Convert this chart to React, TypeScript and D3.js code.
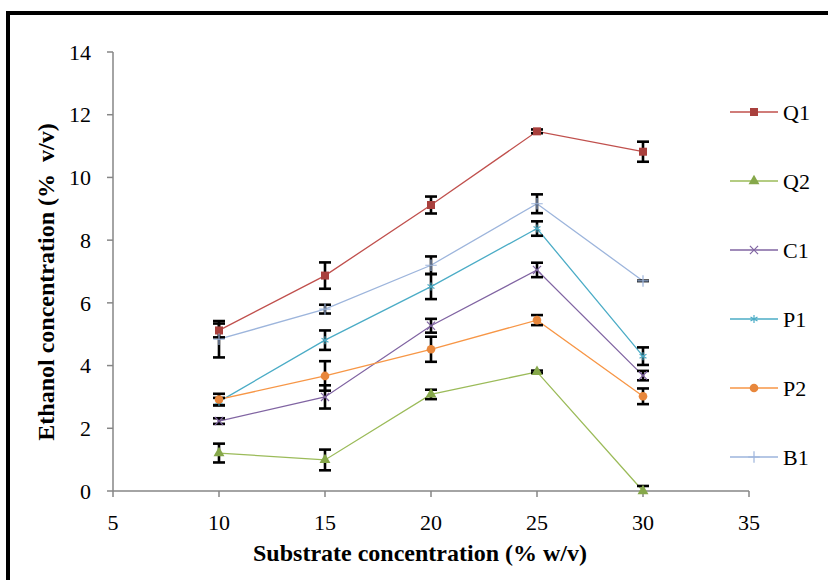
import * as d3 from "d3";
import React from "react";

const W = 828;
const H = 580;

// x positions (% w/v)
const substrate = [10, 15, 20, 25, 30];
const xTicks = [5, 10, 15, 20, 25, 30, 35];
const yTicks = [0, 2, 4, 6, 8, 10, 12, 14];

// ethanol (% v/v) and error bar half-widths
const q1 = [5.12, 6.87, 9.12, 11.47, 10.82];
const q1Err = [0.22, 0.42, 0.27, 0.06, 0.32];
const q2 = [1.21, 0.99, 3.08, 3.8, 0.0];
const q2Err = [0.3, 0.33, 0.15, 0.04, 0.16];
const c1 = [2.23, 3.0, 5.27, 7.05, 3.68];
const c1Err = [0.09, 0.37, 0.22, 0.23, 0.15];
const p1 = [2.85, 4.81, 6.52, 8.37, 4.3];
const p1Err = [0.12, 0.31, 0.4, 0.23, 0.28];
const p2 = [2.92, 3.67, 4.52, 5.45, 3.02];
const p2Err = [0.18, 0.47, 0.4, 0.16, 0.25];
const b1 = [4.84, 5.8, 7.2, 9.16, 6.7];
const b1Err = [0.58, 0.14, 0.28, 0.3, 0.0];

const series = [
  { name: "Q1", values: q1, err: q1Err, line: "#C0504D", fill: "#A9403D", symbol: d3.symbolSquare, size: 64, stroked: false },
  { name: "Q2", values: q2, err: q2Err, line: "#9BBB59", fill: "#86A84A", symbol: d3.symbolTriangle, size: 52, stroked: false },
  { name: "C1", values: c1, err: c1Err, line: "#8064A2", fill: "#8064A2", symbol: d3.symbolTimes, size: 45, stroked: true },
  { name: "P1", values: p1, err: p1Err, line: "#4BACC6", fill: "#4BACC6", symbol: d3.symbolAsterisk, size: 45, stroked: true },
  { name: "P2", values: p2, err: p2Err, line: "#F79646", fill: "#E8873C", symbol: d3.symbolCircle, size: 58, stroked: false },
  { name: "B1", values: b1, err: b1Err, line: "#9DB5DC", fill: "#9DB5DC", symbol: d3.symbolPlus, size: 45, stroked: true },
];

const font = "'Liberation Serif', 'Times New Roman', serif";

export default function App() {
  const x = d3.scaleLinear().domain([5, 35]).range([113, 749]);
  const y = d3.scaleLinear().domain([0, 14]).range([491, 52]);
  const legendY = d3.scaleLinear().domain([0, 5]).range([112, 457]);

  const line = d3
    .line<number>()
    .x((d, i) => x(substrate[i]))
    .y((d) => y(d));

  const marker = (s: (typeof series)[0]) => d3.symbol(s.symbol, s.size)() || "";

  const markerEl = (s: (typeof series)[0], cx: number, cy: number, key: any) =>
    s.stroked ? (
      <path key={key} d={marker(s)} transform={`translate(${cx},${cy})`} fill="none" stroke={s.fill} strokeWidth={1.2} />
    ) : (
      <path key={key} d={marker(s)} transform={`translate(${cx},${cy})`} fill={s.fill} stroke="none" />
    );

  return (
    <svg width={W} height={H} style={{ position: "absolute", left: 0, top: 0, background: "#fff" }} fontFamily={font}>
      {/* outer frame, clipped by the window on right and bottom */}
      <rect x={8} y={13} width={W} height={H} fill="none" stroke="#000" strokeWidth={4} />

      {/* y axis */}
      <line x1={x(5)} x2={x(5)} y1={y(14)} y2={y(0)} stroke="#868686" strokeWidth={1.5} />
      {yTicks.map((t) => (
        <g key={t}>
          <line x1={x(5) - 6} x2={x(5)} y1={y(t)} y2={y(t)} stroke="#868686" strokeWidth={1.5} />
          <text x={91} y={y(t)} dy="0.35em" textAnchor="end" fontSize={22}>
            {t}
          </text>
        </g>
      ))}

      {/* x axis */}
      <line x1={x(5)} x2={x(35)} y1={y(0)} y2={y(0)} stroke="#868686" strokeWidth={1.5} />
      {xTicks.map((t) => (
        <g key={t}>
          <line x1={x(t)} x2={x(t)} y1={y(0)} y2={y(0) + 6} stroke="#868686" strokeWidth={1.5} />
          <text x={x(t)} y={522} dy="0.35em" textAnchor="middle" fontSize={22}>
            {t}
          </text>
        </g>
      ))}

      {/* axis titles */}
      <text x={420} y={553} dy="0.35em" textAnchor="middle" fontSize={24} fontWeight="bold">
        Substrate concentration (% w/v)
      </text>
      <text
        transform={`translate(46,${282}) rotate(-90)`}
        dy="0.35em"
        textAnchor="middle"
        fontSize={24}
        fontWeight="bold"
        style={{ whiteSpace: "pre" }}
      >
        {"Ethanol concentration (%  v/v)"}
      </text>

      {/* series lines */}
      {series.map((s) => (
        <path key={s.name} d={line(s.values) || ""} fill="none" stroke={s.line} strokeWidth={1.3} />
      ))}

      {/* error bars */}
      {series.map((s) =>
        s.values.map((v, i) => {
          const cx = x(substrate[i]);
          const top = y(v + s.err[i]);
          const bot = y(Math.max(0, v - s.err[i]));
          return (
            <g key={s.name + i} stroke="#000" strokeWidth={2.6}>
              <line x1={cx} x2={cx} y1={top} y2={bot} />
              <line x1={cx - 6} x2={cx + 6} y1={top} y2={top} />
              {v - s.err[i] >= 0 && <line x1={cx - 6} x2={cx + 6} y1={bot} y2={bot} />}
            </g>
          );
        })
      )}

      {/* markers */}
      {series.map((s) => s.values.map((v, i) => markerEl(s, x(substrate[i]), y(v), s.name + "m" + i)))}

      {/* legend */}
      {series.map((s, i) => {
        const ly = legendY(i);
        return (
          <g key={"lg" + s.name}>
            <line x1={730} x2={778} y1={ly} y2={ly} stroke={s.line} strokeWidth={1.3} />
            {markerEl(s, 754, ly, "lgm" + s.name)}
            <text x={783} y={ly} dy="0.35em" fontSize={22}>
              {s.name}
            </text>
          </g>
        );
      })}
    </svg>
  );
}
